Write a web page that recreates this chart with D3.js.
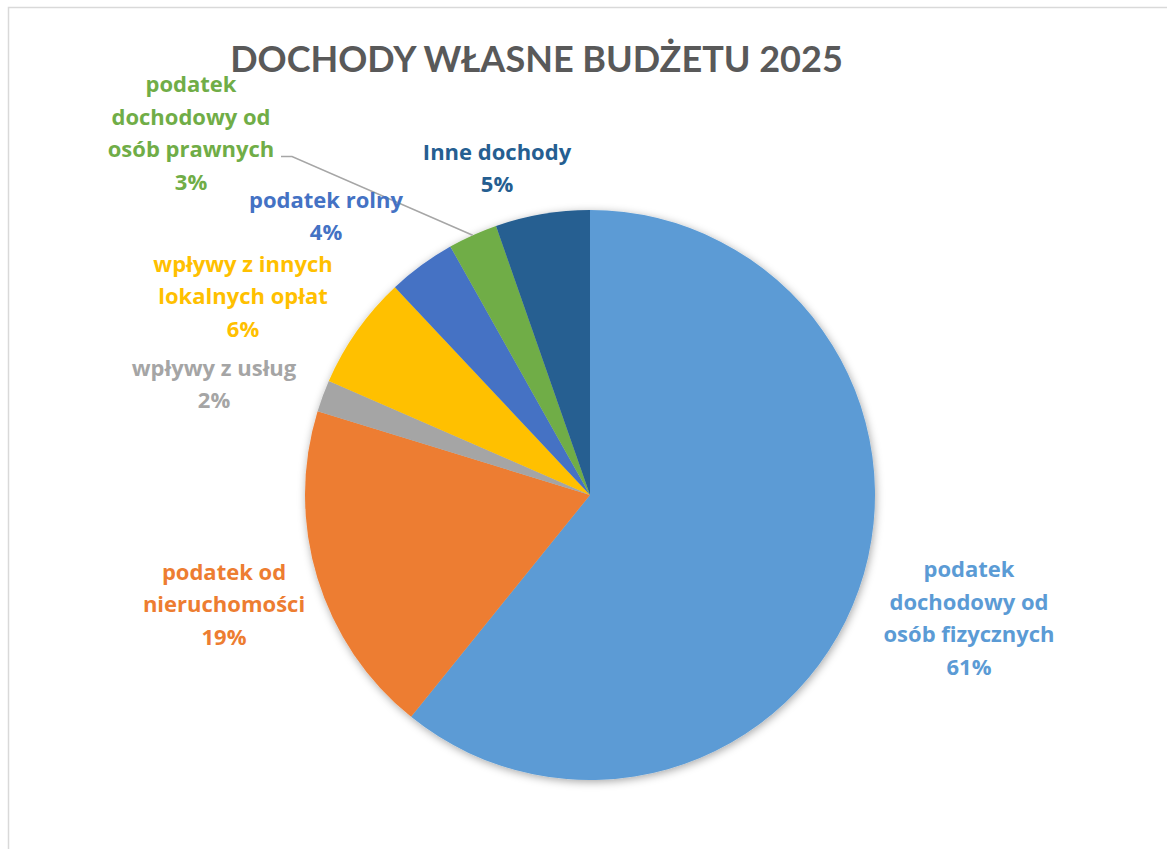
<!DOCTYPE html>
<html><head><meta charset="utf-8">
<script src="https://cdn.jsdelivr.net/npm/d3@7"></script>
<style>body{margin:0;background:#fff}svg{display:block}</style>
</head><body>
<script>
const categories = ["podatek dochodowy od osób fizycznych","podatek od nieruchomości","wpływy z usług","wpływy z innych lokalnych opłat","podatek rolny","podatek dochodowy od osób prawnych","Inne dochody"];
const values = [60.8, 18.95, 1.8, 6.45, 3.85, 2.8, 5.35];
const labelLines = [["podatek","dochodowy od","osób fizycznych"],["podatek od","nieruchomości"],["wpływy z usług"],["wpływy z innych","lokalnych opłat"],["podatek rolny"],["podatek","dochodowy od","osób prawnych"],["Inne dochody"]];
const colors = ["#5B9BD5","#ED7D31","#A5A5A5","#FFC000","#4472C4","#70AD47","#255E91"];
const title = "DOCHODY WŁASNE BUDŻETU 2025";

const W=1167,H=849, cx=590, cy=495, R=285;
// label centres relative to pie centre (layout)
const labelPos = [[379,123],[-366,109],[-376,-111],[-347,-199],[-264,-279],[-399,-362],[-93,-327]];
const lineH = 32.5;

const svg = d3.select("body").append("svg").attr("width",W).attr("height",H);
const defs = svg.append("defs");
const f = defs.append("filter").attr("id","sh").attr("x","-20%").attr("y","-20%").attr("width","140%").attr("height","140%");
f.append("feDropShadow").attr("dx",1).attr("dy",2).attr("stdDeviation",4).attr("flood-color","#000").attr("flood-opacity",0.35);

svg.append("rect").attr("x",8.5).attr("y",7.5).attr("width",W+20).attr("height",H+20).attr("fill","#fff").attr("stroke","#d9d9d9").attr("stroke-width",1.5);

const t = svg.append("text").attr("x",536.5).attr("y",72).attr("text-anchor","middle")
  .attr("font-family","Lato, 'Open Sans', sans-serif").attr("font-weight",700).attr("font-size",40)
  .attr("fill","#595959").text(title);
const tw = t.node().getComputedTextLength();
t.attr("font-size", 40*613/tw);

const pie = d3.pie().value(d=>d).sort(null);
const arcs = pie(values);
const arc = d3.arc().innerRadius(0).outerRadius(R);
const edge = d3.arc().innerRadius(R).outerRadius(R);
const g = svg.append("g").attr("transform",`translate(${cx},${cy})`);
g.append("g").attr("filter","url(#sh)").selectAll("path").data(arcs).join("path")
  .attr("d",arc).attr("fill",(d,i)=>colors[i]);

// leader line for the green slice
const gi = 5;
const ep = edge.centroid(arcs[gi]);
const lp = labelPos[gi];
g.append("polyline").attr("fill","none").attr("stroke","#A6A6A6").attr("stroke-width",1.5)
  .attr("points",[[lp[0]+90,lp[1]+23.5],[lp[0]+101,lp[1]+23.5],ep].map(p=>p.join(",")).join(" "));

const lg = g.append("g").attr("font-family","'Open Sans', Lato, sans-serif").attr("font-weight",700).attr("font-size",22).attr("text-anchor","middle");
arcs.forEach((a,i)=>{
  const lines = labelLines[i].concat([Math.round(values[i])+"%"]);
  const n = lines.length;
  const txt = lg.append("text").attr("fill",colors[i]);
  lines.forEach((s,k)=>{
    txt.append("tspan").attr("x",labelPos[i][0]).attr("y",labelPos[i][1]+(k-(n-1)/2)*lineH+8).text(s);
  });
});
</script>
</body></html>
